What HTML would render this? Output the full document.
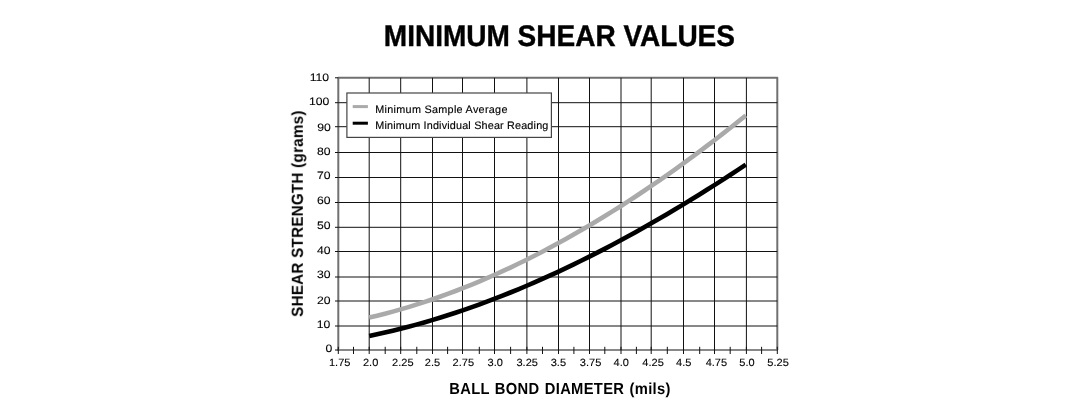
<!DOCTYPE html>
<html><head><meta charset="utf-8"><style>html,body{margin:0;padding:0;background:#fff;}svg{display:block;} text{will-change:transform;text-rendering:geometricPrecision;}</style></head>
<body><svg width="1090" height="410" viewBox="0 0 1090 410">
<rect x="0" y="0" width="1090" height="410" fill="#fff"/>
<path d="M338.30 350.00V77.80H777.30V350.00" stroke="#707070" stroke-width="2.0" fill="none" stroke-linejoin="round"/>
<path d="M337.30 350.00H777.90" stroke="#888" stroke-width="2.2" fill="none"/>
<path d="M369.20 77.80V350.00M400.70 77.80V350.00M432.50 77.80V350.00M462.50 77.80V350.00M494.50 77.80V350.00M526.90 77.80V350.00M558.50 77.80V350.00M589.50 77.80V350.00M621.00 77.80V350.00M651.20 77.80V350.00M683.50 77.80V350.00M714.50 77.80V350.00M746.40 77.80V350.00M338.30 326.00H777.30M338.30 301.00H777.30M338.30 277.00H777.30M338.30 251.50H777.30M338.30 227.30H777.30M338.30 202.50H777.30M338.30 177.50H777.30M338.30 152.50H777.30M338.30 126.70H777.30M338.30 102.70H777.30" stroke="#111" stroke-width="1.0" fill="none"/>
<path d="M338.30 346.80V354.00M353.50 346.80V354.00M369.20 346.80V354.00M385.20 346.80V354.00M400.70 346.80V354.00M416.80 346.80V354.00M432.50 346.80V354.00M447.60 346.80V354.00M462.50 346.80V354.00M479.30 346.80V354.00M494.50 346.80V354.00M510.60 346.80V354.00M526.90 346.80V354.00M542.50 346.80V354.00M558.50 346.80V354.00M573.90 346.80V354.00M589.50 346.80V354.00M604.80 346.80V354.00M621.00 346.80V354.00M636.40 346.80V354.00M651.20 346.80V354.00M667.30 346.80V354.00M683.50 346.80V354.00M699.70 346.80V354.00M714.50 346.80V354.00M730.20 346.80V354.00M746.40 346.80V354.00M761.60 346.80V354.00M777.30 346.80V354.00M335.00 350.00H338.30M335.00 326.00H338.30M335.00 301.00H338.30M335.00 277.00H338.30M335.00 251.50H338.30M335.00 227.30H338.30M335.00 202.50H338.30M335.00 177.50H338.30M335.00 152.50H338.30M335.00 126.70H338.30M335.00 102.70H338.30M335.00 77.80H338.30" stroke="#111" stroke-width="1.0" fill="none"/>
<polyline points="369.20,317.55 377.05,315.68 384.89,313.69 392.74,311.60 400.58,309.40 408.43,307.09 416.27,304.67 424.12,302.14 431.97,299.51 439.81,296.78 447.66,293.94 455.50,290.99 463.35,287.95 471.20,284.80 479.04,281.55 486.89,278.19 494.73,274.74 502.58,271.19 510.42,267.54 518.27,263.79 526.12,259.94 533.96,256.00 541.81,251.96 549.65,247.83 557.50,243.60 565.35,239.27 573.19,234.86 581.04,230.35 588.88,225.75 596.73,221.05 604.57,216.27 612.42,211.40 620.27,206.44 628.11,201.39 635.96,196.25 643.80,191.02 651.65,185.71 659.50,180.32 667.34,174.84 675.19,169.27 683.03,163.62 690.88,157.89 698.72,152.08 706.57,146.18 714.42,140.21 722.26,134.15 730.11,128.02 737.95,121.80 745.80,115.51" stroke="#aaa" stroke-width="4.6" fill="none" stroke-linejoin="round"/>
<polyline points="369.20,335.91 377.05,334.26 384.89,332.52 392.74,330.68 400.58,328.75 408.43,326.73 416.27,324.62 424.12,322.42 431.97,320.13 439.81,317.75 447.66,315.29 455.50,312.74 463.35,310.10 471.20,307.38 479.04,304.57 486.89,301.68 494.73,298.71 502.58,295.65 510.42,292.51 518.27,289.30 526.12,286.00 533.96,282.63 541.81,279.17 549.65,275.65 557.50,272.04 565.35,268.36 573.19,264.60 581.04,260.77 588.88,256.87 596.73,252.89 604.57,248.84 612.42,244.73 620.27,240.54 628.11,236.28 635.96,231.95 643.80,227.56 651.65,223.10 659.50,218.57 667.34,213.98 675.19,209.32 683.03,204.60 690.88,199.82 698.72,194.97 706.57,190.07 714.42,185.10 722.26,180.07 730.11,174.99 737.95,169.84 745.80,164.64" stroke="#000" stroke-width="4.6" fill="none" stroke-linejoin="round"/>
<rect x="346.9" y="93" width="204.5" height="44.4" fill="#fff" stroke="#444" stroke-width="1.2"/>
<path d="M352.7 106.6H367.9" stroke="#aaa" stroke-width="3"/>
<path d="M352.7 123.2H367.9" stroke="#000" stroke-width="3"/>
<text transform="translate(375.30 112.70)" font-family="Liberation Sans, sans-serif" font-size="10.8" letter-spacing="0.3" text-anchor="start" fill="#000" stroke="#000" stroke-width="0.15">Minimum Sample Average</text>
<text transform="translate(375.30 128.70)" font-family="Liberation Sans, sans-serif" font-size="10.8" letter-spacing="0.18" text-anchor="start" fill="#000" stroke="#000" stroke-width="0.15">Minimum Individual Shear Reading</text>
<text transform="translate(339.70 365.50) scale(1.05 1)" font-family="Liberation Sans, sans-serif" font-size="10.5" text-anchor="middle" fill="#000" stroke="#000" stroke-width="0.1">1.75</text>
<text transform="translate(370.60 365.50) scale(1.05 1)" font-family="Liberation Sans, sans-serif" font-size="10.5" text-anchor="middle" fill="#000" stroke="#000" stroke-width="0.1">2.0</text>
<text transform="translate(402.80 365.50) scale(1.05 1)" font-family="Liberation Sans, sans-serif" font-size="10.5" text-anchor="middle" fill="#000" stroke="#000" stroke-width="0.1">2.25</text>
<text transform="translate(432.50 365.50) scale(1.05 1)" font-family="Liberation Sans, sans-serif" font-size="10.5" text-anchor="middle" fill="#000" stroke="#000" stroke-width="0.1">2.5</text>
<text transform="translate(463.30 365.50) scale(1.05 1)" font-family="Liberation Sans, sans-serif" font-size="10.5" text-anchor="middle" fill="#000" stroke="#000" stroke-width="0.1">2.75</text>
<text transform="translate(495.20 365.50) scale(1.05 1)" font-family="Liberation Sans, sans-serif" font-size="10.5" text-anchor="middle" fill="#000" stroke="#000" stroke-width="0.1">3.0</text>
<text transform="translate(527.20 365.50) scale(1.05 1)" font-family="Liberation Sans, sans-serif" font-size="10.5" text-anchor="middle" fill="#000" stroke="#000" stroke-width="0.1">3.25</text>
<text transform="translate(558.40 365.50) scale(1.05 1)" font-family="Liberation Sans, sans-serif" font-size="10.5" text-anchor="middle" fill="#000" stroke="#000" stroke-width="0.1">3.5</text>
<text transform="translate(590.60 365.50) scale(1.05 1)" font-family="Liberation Sans, sans-serif" font-size="10.5" text-anchor="middle" fill="#000" stroke="#000" stroke-width="0.1">3.75</text>
<text transform="translate(621.20 365.50) scale(1.05 1)" font-family="Liberation Sans, sans-serif" font-size="10.5" text-anchor="middle" fill="#000" stroke="#000" stroke-width="0.1">4.0</text>
<text transform="translate(653.10 365.50) scale(1.05 1)" font-family="Liberation Sans, sans-serif" font-size="10.5" text-anchor="middle" fill="#000" stroke="#000" stroke-width="0.1">4.25</text>
<text transform="translate(683.70 365.50) scale(1.05 1)" font-family="Liberation Sans, sans-serif" font-size="10.5" text-anchor="middle" fill="#000" stroke="#000" stroke-width="0.1">4.5</text>
<text transform="translate(716.40 365.50) scale(1.05 1)" font-family="Liberation Sans, sans-serif" font-size="10.5" text-anchor="middle" fill="#000" stroke="#000" stroke-width="0.1">4.75</text>
<text transform="translate(747.00 365.50) scale(1.05 1)" font-family="Liberation Sans, sans-serif" font-size="10.5" text-anchor="middle" fill="#000" stroke="#000" stroke-width="0.1">5.0</text>
<text transform="translate(778.10 365.50) scale(1.05 1)" font-family="Liberation Sans, sans-serif" font-size="10.5" text-anchor="middle" fill="#000" stroke="#000" stroke-width="0.1">5.25</text>
<text transform="translate(332.40 352.30) scale(1.13 1)" font-family="Liberation Sans, sans-serif" font-size="10.8" text-anchor="end" fill="#000" stroke="#000" stroke-width="0.1">0</text>
<text transform="translate(330.40 327.80) scale(1.13 1)" font-family="Liberation Sans, sans-serif" font-size="10.8" text-anchor="end" fill="#000" stroke="#000" stroke-width="0.1">10</text>
<text transform="translate(330.50 303.70) scale(1.13 1)" font-family="Liberation Sans, sans-serif" font-size="10.8" text-anchor="end" fill="#000" stroke="#000" stroke-width="0.1">20</text>
<text transform="translate(330.50 278.20) scale(1.13 1)" font-family="Liberation Sans, sans-serif" font-size="10.8" text-anchor="end" fill="#000" stroke="#000" stroke-width="0.1">30</text>
<text transform="translate(330.50 253.70) scale(1.13 1)" font-family="Liberation Sans, sans-serif" font-size="10.8" text-anchor="end" fill="#000" stroke="#000" stroke-width="0.1">40</text>
<text transform="translate(330.50 229.10) scale(1.13 1)" font-family="Liberation Sans, sans-serif" font-size="10.8" text-anchor="end" fill="#000" stroke="#000" stroke-width="0.1">50</text>
<text transform="translate(330.50 204.20) scale(1.13 1)" font-family="Liberation Sans, sans-serif" font-size="10.8" text-anchor="end" fill="#000" stroke="#000" stroke-width="0.1">60</text>
<text transform="translate(330.50 179.30) scale(1.13 1)" font-family="Liberation Sans, sans-serif" font-size="10.8" text-anchor="end" fill="#000" stroke="#000" stroke-width="0.1">70</text>
<text transform="translate(330.50 155.10) scale(1.13 1)" font-family="Liberation Sans, sans-serif" font-size="10.8" text-anchor="end" fill="#000" stroke="#000" stroke-width="0.1">80</text>
<text transform="translate(330.80 130.65) scale(1.13 1)" font-family="Liberation Sans, sans-serif" font-size="10.8" text-anchor="end" fill="#000" stroke="#000" stroke-width="0.1">90</text>
<text transform="translate(329.40 105.10) scale(1.13 1)" font-family="Liberation Sans, sans-serif" font-size="10.8" text-anchor="end" fill="#000" stroke="#000" stroke-width="0.1">100</text>
<text transform="translate(329.10 80.50) scale(1.13 1)" font-family="Liberation Sans, sans-serif" font-size="10.8" text-anchor="end" fill="#000" stroke="#000" stroke-width="0.1">110</text>
<text transform="translate(559.40 46.10) scale(0.94 1)" font-family="Liberation Sans, sans-serif" font-weight="bold" font-size="29.8" text-anchor="middle" fill="#000" stroke="#000" stroke-width="0.4">MINIMUM SHEAR VALUES</text>
<text transform="translate(560.00 394.00) scale(0.92 1)" font-family="Liberation Sans, sans-serif" font-weight="bold" font-size="16.0" letter-spacing="0.35" word-spacing="1.0" text-anchor="middle" fill="#000">BALL BOND DIAMETER (mils)</text>
<text transform="translate(302.80 213.60) rotate(-90) scale(0.95 1)" font-family="Liberation Sans, sans-serif" font-weight="bold" font-size="16.0" letter-spacing="0.26" text-anchor="middle" fill="#000">SHEAR STRENGTH (grams)</text>
</svg></body></html>
